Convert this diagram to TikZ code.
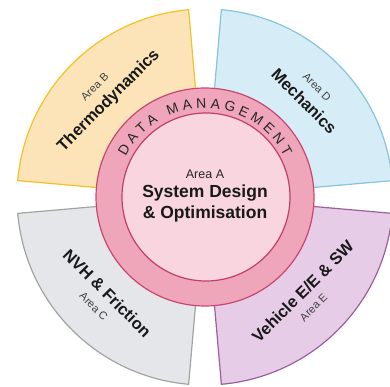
\documentclass[tikz,border=0pt]{standalone}
\usepackage{fontspec}
\setmainfont{Liberation Sans}
\usetikzlibrary{decorations.text}

\definecolor{thermofill}{HTML}{FCE4B8}
\definecolor{thermoline}{HTML}{F2C125}
\definecolor{mechfill}{HTML}{D6ECF7}
\definecolor{mechline}{HTML}{86C4DF}
\definecolor{nvhfill}{HTML}{E4E6E9}
\definecolor{nvhline}{HTML}{A3A3A3}
\definecolor{vehfill}{HTML}{E6CCE6}
\definecolor{vehline}{HTML}{9E5E9E}
\definecolor{ringfill}{HTML}{F0A6BA}
\definecolor{ringline}{HTML}{C8466E}
\definecolor{corefill}{HTML}{F9D5DF}
\definecolor{coreline}{HTML}{C23F69}

\begin{document}
\begin{tikzpicture}[x=1pt,y=1pt,
    sector/.style={line width=1.2pt,line join=miter},
    areatitle/.style={font=\fontsize{16.5}{18}\selectfont\bfseries,text=black!90,inner sep=0pt},
    arealabel/.style={font=\fontsize{11}{12}\selectfont,text=black!75,inner sep=0pt}]
    \useasboundingbox (-205,-190) rectangle (185,197);
    \clip (-205,-190) rectangle (185,197);

    %sectors
    \draw[sector,fill=mechfill,draw=mechline] (0,0) -- (5:188) arc[start angle=5,end angle=85,radius=188] -- cycle;
    \draw[sector,fill=thermofill,draw=thermoline] (0,0) -- (95:188) arc[start angle=95,end angle=175,radius=188] -- cycle;
    \draw[sector,fill=nvhfill,draw=nvhline] (0,0) -- (185:188) arc[start angle=185,end angle=265,radius=188] -- cycle;
    \draw[sector,fill=vehfill,draw=vehline] (0,0) -- (275:188) arc[start angle=275,end angle=355,radius=188] -- cycle;

    %ring and core
    \draw[line width=1.2pt,fill=ringfill,draw=ringline] (0,0) circle (109);
    \draw[line width=1.2pt,fill=corefill,draw=coreline] (1,0) circle (84);

    \path[decorate,decoration={text along path,text align={fit to path},
        text={|\fontsize{14}{14}\selectfont\color{black!85}|DATA MANAGEMENT}}]
        (153:89) arc[start angle=153,end angle=27,radius=89];

    %centre
    \node[font=\fontsize{12.5}{14}\selectfont,text=black!85] (areaA) at (0,23) {Area A};
    \node[font=\fontsize{17.5}{20}\selectfont\bfseries,text=black!90] (sysdesign) at (0,4) {System Design};
    \node[font=\fontsize{17.5}{20}\selectfont\bfseries,text=black!90] (optim) at (0,-17) {\& Optimisation};

    %labels
    \node[areatitle,rotate=45] (thermo) at (135:136) {Thermodynamics};
    \node[arealabel,rotate=45] (areaB) at (135:156) {Area B};
    \node[areatitle,rotate=-45] (mech) at (44:138) {Mechanics};
    \node[arealabel,rotate=-45] (areaD) at (44.5:157) {Area D};
    \node[areatitle,rotate=-45] (nvh) at (224.5:137) {NVH \& Friction};
    \node[arealabel,rotate=-45] (areaC) at (224.5:156) {Area C};
    \node[areatitle,rotate=45] (vehicle) at (-44:136) {Vehicle E/E \& SW};
    \node[arealabel,rotate=45] (areaE) at (-45.5:155) {Area E};
\end{tikzpicture}
\end{document}
